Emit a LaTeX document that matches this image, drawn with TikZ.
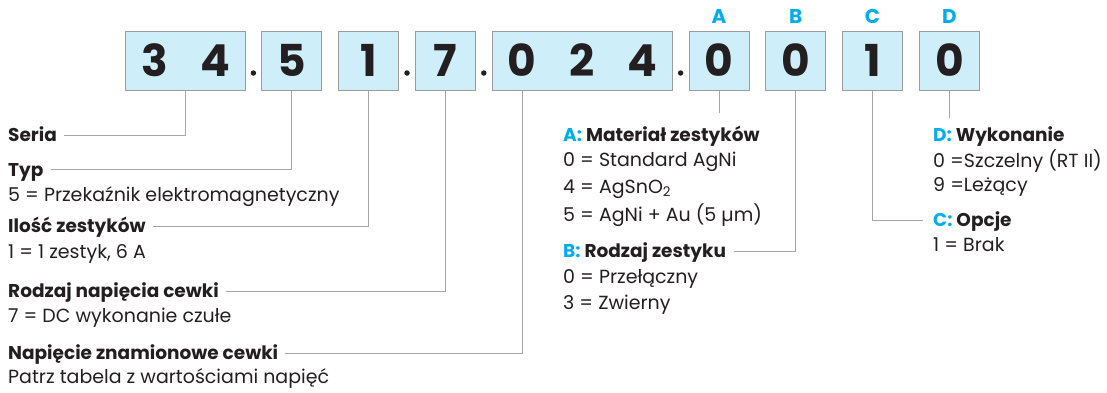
\documentclass[tikz,border=0pt]{standalone}
\usepackage{fontspec}
\setmainfont{Poppins}
\usepackage{tikz}
\usetikzlibrary{positioning,calc}

\definecolor{boxblue}{HTML}{CEEEFA}
\definecolor{framegray}{HTML}{9C9C9C}
\definecolor{linegray}{HTML}{A5A5A5}
\definecolor{codecyan}{HTML}{00AEEF}
\definecolor{inkdark}{HTML}{231F20}

\newcommand{\cell}[1]{\makebox[60pt]{#1}}
\newcommand{\key}[1]{\textcolor{codecyan}{#1:}}

\tikzset{
  digitbox/.style={draw=framegray, line width=1pt, fill=boxblue, inner sep=0pt,
    minimum height=59pt, text height=31pt, text depth=0pt,
    font=\fontsize{44}{44}\selectfont\bfseries, text=inkdark},
  codeletter/.style={inner sep=0pt, text height=14pt, text depth=0pt,
    font=\fontsize{20}{20}\selectfont\bfseries, text=codecyan},
  headline/.style={anchor=west, inner sep=0pt, text height=13pt, text depth=0pt,
    font=\fontsize{18.5}{18.5}\selectfont\bfseries, text=inkdark},
  subline/.style={anchor=west, inner sep=0pt, text height=13pt, text depth=0pt,
    font=\fontsize{19}{19}\selectfont, text=inkdark},
  dotmark/.style={circle, fill=inkdark, inner sep=0pt, minimum size=5.5pt},
  conn/.style={draw=linegray, line width=1pt}
}

\begin{document}
\begin{tikzpicture}[x=1pt, y=-1pt, node distance=15.8pt]
\useasboundingbox (0,0) rectangle (1107,392);
%code boxes
\node[digitbox](b34) at (185,60.5){\cell{3}\cell{4}};
\node[digitbox, right = of b34](b5){\cell{5}};
\node[digitbox, right = of b5](b1){\cell{1}};
\node[digitbox, right = of b1](b7){\cell{7}};
\node[digitbox, right = of b7](b024){\cell{0}\cell{2}\cell{4}};
\node[digitbox, right = of b024](bA){\cell{0}};
\node[digitbox, right = of bA](bB){\cell{0}};
\node[digitbox, right = of bB](bC){\cell{1}};
\node[digitbox, right = of bC](bD){\cell{0}};
%dots
\node[dotmark, yshift=17.5pt](p1) at ($(b34.south east)!0.5!(b5.south west)$){};
\node[dotmark, yshift=17.5pt](p2) at ($(b1.south east)!0.5!(b7.south west)$){};
\node[dotmark, yshift=17.5pt](p3) at ($(b7.south east)!0.5!(b024.south west)$){};
\node[dotmark, yshift=17.5pt](p4) at ($(b024.south east)!0.5!(bA.south west)$){};
%letters
\node[codeletter, above = 7pt of bA](lA){A};
\node[codeletter, above = 7pt of bB](lB){B};
\node[codeletter, above = 7pt of bC](lC){C};
\node[codeletter, above = 7pt of bD](lD){D};
%left texts
\node[headline](hSeria) at (8,135){Seria};
\node[headline](hTyp) at (8,169.5){Typ};
\node[subline](sTyp) at (8,195){5 = Przekaźnik elektromagnetyczny};
\node[headline](hIlosc) at (8,226){Ilość zestyków};
\node[subline](sIlosc) at (8,252){1 = 1 zestyk, 6 A};
\node[headline](hRodzaj) at (8,291){Rodzaj napięcia cewki};
\node[subline](sRodzaj) at (8,316){7 = DC wykonanie czułe};
\node[headline](hNapiecie) at (8,353){Napięcie znamionowe cewki};
\node[subline](sNapiecie) at (8,377){Patrz tabela z wartościami napięć};
%right texts
\node[headline](hA) at (563,135){\key{A} Materiał zestyków};
\node[subline](sA0) at (563,160){0 = Standard AgNi};
\node[subline](sA4) at (563,186.5){4 = AgSnO\textsubscript{2}};
\node[subline](sA5) at (563,215){5 = AgNi + Au (5 µm)};
\node[headline](hB) at (563,251){\key{B} Rodzaj zestyku};
\node[subline](sB0) at (563,276.5){0 = Przełączny};
\node[subline](sB3) at (563,302.5){3 = Zwierny};
\node[headline](hD) at (933,134.5){\key{D} Wykonanie};
\node[subline](sD0) at (933,161){0 =Szczelny (RT II)};
\node[subline](sD9) at (933,185){9 =Leżący};
\node[headline](hC) at (933,220){\key{C} Opcje};
\node[subline](sC1) at (933,245){1 = Brak};
%connectors
\path[conn](b34.south) |- ([xshift=7pt]hSeria.east);
\path[conn](b5.south) |- ([xshift=7pt]hTyp.east);
\path[conn](b1.south) |- ([xshift=7pt]hIlosc.east);
\path[conn](b7.south) |- ([xshift=7pt]hRodzaj.east);
\path[conn]([xshift=-60pt]b024.south) |- ([xshift=7pt]hNapiecie.east);
\path[conn, shorten >=15.5pt](bA.south) -- (bA.south |- hA.north);
\path[conn](bB.south) |- ([xshift=8pt]hB.east);
\path[conn](bC.south) |- ([xshift=-10pt]hC.west);
\path[conn, shorten >=10pt](bD.south) -- (bD.south |- hD.north);
\end{tikzpicture}
\end{document}
